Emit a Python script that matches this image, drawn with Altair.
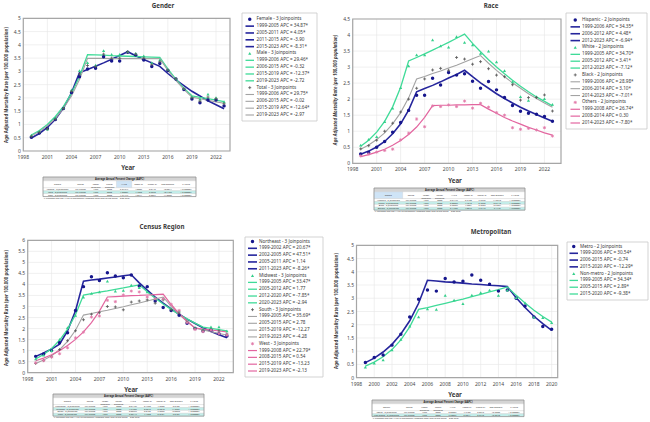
import altair as alt
import pandas as pd

FONT = "Noto Sans"
TXT = "#3a3a3a"

YEARS = list(range(1999, 2024))
METRO_YEARS = list(range(1999, 2021))

# ---------------- Gender ----------------
female_obs = [0.52, 0.68, 0.85, 1.19, 1.60, 2.20, 2.80, 3.09, 3.12, 3.55, 3.39, 3.39, 3.72, 3.62, 3.43, 3.18, 3.30, 3.03, 2.71, 2.32, 1.96, 1.82, 1.92, 1.92, 1.70]
female_fit = [0.49, 0.66, 0.89, 1.20, 1.62, 2.19, 2.95, 3.07, 3.19, 3.32, 3.46, 3.60, 3.74, 3.59, 3.45, 3.32, 3.19, 2.92, 2.68, 2.46, 2.25, 2.07, 1.89, 1.74, 1.59]
male_obs = [0.60, 0.75, 0.82, 1.25, 1.63, 2.30, 3.03, 3.33, 3.24, 3.78, 3.64, 3.64, 3.74, 3.68, 3.58, 3.33, 3.43, 3.08, 2.74, 2.36, 2.05, 1.96, 2.14, 2.01, 1.86]
male_fit = [0.60, 0.77, 1.00, 1.30, 1.68, 2.17, 2.81, 3.63, 3.62, 3.61, 3.59, 3.58, 3.57, 3.56, 3.55, 3.54, 3.53, 3.09, 2.71, 2.37, 2.08, 2.02, 1.97, 1.92, 1.86]
total_obs = [0.55, 0.70, 0.83, 1.20, 1.60, 2.25, 2.90, 3.22, 3.18, 3.65, 3.50, 3.50, 3.73, 3.65, 3.50, 3.25, 3.36, 3.05, 2.72, 2.34, 2.00, 1.88, 2.03, 1.97, 1.78]
total_fit = [0.57, 0.73, 0.95, 1.23, 1.60, 2.07, 2.69, 3.49, 3.49, 3.49, 3.48, 3.48, 3.48, 3.48, 3.48, 3.48, 3.48, 3.04, 2.66, 2.32, 2.03, 1.97, 1.91, 1.85, 1.80]

# ---------------- Race ----------------
hisp_obs = [0.29, 0.34, 0.50, 0.68, 0.97, 1.27, 1.65, 2.12, 2.12, 2.65, 2.44, 2.83, 2.75, 2.79, 2.56, 2.34, 2.55, 2.29, 2.05, 1.80, 1.62, 1.56, 1.53, 1.46, 1.31]
hisp_fit = [0.28, 0.38, 0.51, 0.68, 0.92, 1.23, 1.66, 2.23, 2.33, 2.43, 2.54, 2.66, 2.77, 2.90, 2.70, 2.51, 2.34, 2.17, 2.02, 1.88, 1.75, 1.63, 1.52, 1.41, 1.31]
white_obs = [0.57, 0.75, 0.83, 1.30, 1.72, 2.36, 3.04, 3.38, 3.38, 3.85, 3.66, 3.62, 3.95, 3.77, 3.69, 3.43, 3.50, 3.16, 2.89, 2.54, 2.08, 1.96, 2.08, 2.02, 1.84]
white_fit = [0.53, 0.72, 0.97, 1.31, 1.76, 2.37, 3.19, 3.30, 3.41, 3.53, 3.65, 3.77, 3.90, 4.03, 3.74, 3.48, 3.23, 3.00, 2.79, 2.59, 2.40, 2.23, 2.07, 1.93, 1.79]
black_obs = [0.45, 0.55, 0.72, 1.00, 1.25, 1.60, 2.00, 2.34, 2.63, 2.91, 2.96, 2.90, 3.30, 3.25, 3.09, 3.17, 2.95, 2.75, 2.70, 2.45, 1.97, 2.05, 2.05, 2.13, 1.63]
black_fit = [0.44, 0.57, 0.74, 0.95, 1.23, 1.58, 2.04, 2.63, 2.71, 2.80, 2.88, 2.97, 3.06, 3.16, 3.26, 3.36, 3.12, 2.90, 2.70, 2.51, 2.34, 2.17, 2.02, 1.88, 1.75]
oth_obs = [0.23, 0.29, 0.35, 0.40, 0.44, 0.73, 0.94, 1.38, 1.14, 1.79, 1.77, 1.82, 1.77, 1.94, 1.72, 1.87, 1.75, 1.58, 1.50, 1.11, 1.06, 1.09, 1.04, 1.11, 0.85]
oth_fit = [0.21, 0.27, 0.35, 0.44, 0.56, 0.71, 0.90, 1.13, 1.43, 1.80, 1.81, 1.81, 1.82, 1.82, 1.83, 1.83, 1.69, 1.56, 1.43, 1.32, 1.22, 1.12, 1.04, 0.95, 0.88]

# ---------------- Census Region ----------------
ne_obs = [0.74, 0.85, 1.00, 1.36, 1.81, 2.82, 3.90, 4.35, 4.18, 4.53, 4.38, 4.30, 4.43, 3.93, 3.90, 3.25, 2.95, 2.82, 2.60, 2.24, 2.00, 1.89, 1.93, 1.77, 1.66]
ne_fit = [0.74, 0.89, 1.07, 1.29, 1.90, 2.81, 4.15, 4.20, 4.24, 4.29, 4.34, 4.39, 4.44, 4.07, 3.74, 3.43, 3.15, 2.89, 2.65, 2.43, 2.23, 2.04, 1.87, 1.72, 1.58]
mw_obs = [0.63, 0.80, 1.00, 1.51, 2.04, 2.60, 3.43, 3.60, 3.66, 4.15, 3.70, 3.73, 3.97, 3.85, 3.66, 3.37, 3.37, 2.90, 2.80, 2.31, 2.04, 1.96, 2.08, 2.08, 1.89]
mw_fit = [0.62, 0.83, 1.10, 1.47, 1.97, 2.63, 3.52, 3.58, 3.65, 3.71, 3.78, 3.84, 3.91, 3.98, 3.67, 3.38, 3.11, 2.87, 2.64, 2.44, 2.25, 2.07, 2.01, 1.95, 1.89]
so_obs = [0.42, 0.55, 0.72, 1.05, 1.45, 1.90, 2.40, 2.65, 2.72, 3.00, 2.98, 2.85, 3.20, 3.25, 3.30, 3.15, 3.30, 2.85, 2.70, 2.30, 2.00, 1.90, 1.95, 1.90, 1.75]
so_fit = [0.42, 0.57, 0.77, 1.04, 1.42, 1.92, 2.61, 2.68, 2.76, 2.83, 2.91, 2.99, 3.08, 3.16, 3.25, 3.34, 3.43, 3.01, 2.64, 2.32, 2.03, 1.94, 1.86, 1.78, 1.71]
we_obs = [0.45, 0.55, 0.71, 0.86, 1.13, 1.58, 1.84, 2.52, 2.57, 3.28, 3.22, 3.52, 3.70, 3.66, 3.43, 3.35, 3.35, 3.10, 2.82, 2.27, 1.96, 1.86, 1.93, 1.77, 1.70]
we_fit = [0.54, 0.66, 0.81, 1.00, 1.23, 1.51, 1.85, 2.27, 2.79, 3.43, 3.45, 3.47, 3.49, 3.50, 3.52, 3.54, 3.56, 3.09, 2.68, 2.33, 2.02, 1.98, 1.94, 1.89, 1.85]

# ---------------- Metropolitan ----------------
metro_obs = [0.57, 0.76, 0.86, 1.23, 1.64, 2.29, 2.96, 3.31, 3.27, 3.75, 3.61, 3.64, 3.88, 3.68, 3.53, 3.27, 3.31, 3.00, 2.71, 2.29, 1.93, 1.83]
metro_fit = [0.57, 0.74, 0.97, 1.26, 1.65, 2.15, 2.81, 3.68, 3.65, 3.62, 3.60, 3.57, 3.54, 3.52, 3.49, 3.47, 3.44, 3.02, 2.65, 2.32, 2.04, 1.79]
nonmetro_obs = [0.40, 0.55, 0.67, 1.05, 1.45, 1.95, 2.30, 2.60, 2.58, 3.11, 2.93, 2.80, 3.12, 3.21, 3.31, 3.11, 3.31, 3.02, 2.83, 2.29, 2.27, 2.08]
nonmetro_fit = [0.44, 0.59, 0.79, 1.06, 1.43, 1.92, 2.58, 2.65, 2.73, 2.81, 2.89, 2.97, 3.06, 3.15, 3.24, 3.33, 3.43, 3.11, 2.82, 2.55, 2.31, 2.10]

# ---------------- Legend texts ----------------
gender_legend = [
    ("Female - 3 Joinpoints", "navy", "head"),
    ("1999-2005 APC  =  34.87*", "navy", "seg"),
    ("2005-2011 APC  =  4.05*", "navy", "seg"),
    ("2011-2015 APC  =  -3.90", "navy", "seg"),
    ("2015-2023 APC  =  -8.31*", "navy", "seg"),
    ("Male - 3 Joinpoints", "green", "head"),
    ("1999-2006 APC  =  29.46*", "green", "seg"),
    ("2006-2015 APC  =  -0.32", "green", "seg"),
    ("2015-2019 APC  =  -12.37*", "green", "seg"),
    ("2019-2023 APC  =  -2.72", "green", "seg"),
    ("Total - 3 Joinpoints", "gray", "head"),
    ("1999-2006 APC  =  29.75*", "gray", "seg"),
    ("2006-2015 APC  =  -0.02", "gray", "seg"),
    ("2015-2019 APC  =  -12.64*", "gray", "seg"),
    ("2019-2023 APC  =  -2.97", "gray", "seg"),
]
race_legend = [
    ("Hispanic - 2 Joinpoints", "navy", "head"),
    ("1999-2006 APC  =  34.35*", "navy", "seg"),
    ("2006-2012 APC  =  4.48*", "navy", "seg"),
    ("2012-2023 APC  =  -6.94*", "navy", "seg"),
    ("White - 2 Joinpoints", "green", "head"),
    ("1999-2005 APC  =  34.70*", "green", "seg"),
    ("2005-2012 APC  =  3.41*", "green", "seg"),
    ("2012-2023 APC  =  -7.12*", "green", "seg"),
    ("Black - 2 Joinpoints", "gray", "head"),
    ("1999-2006 APC  =  28.98*", "gray", "seg"),
    ("2006-2014 APC  =  3.10*", "gray", "seg"),
    ("2014-2023 APC  =  -7.01*", "gray", "seg"),
    ("Others - 2 Joinpoints", "pink", "head"),
    ("1999-2008 APC  =  26.74*", "pink", "seg"),
    ("2008-2014 APC  =  0.30", "pink", "seg"),
    ("2014-2023 APC  =  -7.80*", "pink", "seg"),
]
census_legend = [
    ("Northeast - 3 Joinpoints", "navy", "head"),
    ("1999-2002 APC  =  20.67*", "navy", "seg"),
    ("2002-2005 APC  =  47.51*", "navy", "seg"),
    ("2005-2011 APC  =  1.14", "navy", "seg"),
    ("2011-2023 APC  =  -8.26*", "navy", "seg"),
    ("Midwest - 3 Joinpoints", "green", "head"),
    ("1999-2005 APC  =  33.47*", "green", "seg"),
    ("2005-2012 APC  =  1.77", "green", "seg"),
    ("2012-2020 APC  =  -7.85*", "green", "seg"),
    ("2020-2023 APC  =  -2.94", "green", "seg"),
    ("South - 3 Joinpoints", "gray", "head"),
    ("1999-2005 APC  =  35.69*", "gray", "seg"),
    ("2005-2015 APC  =  2.78", "gray", "seg"),
    ("2015-2019 APC  =  -12.27", "gray", "seg"),
    ("2019-2023 APC  =  -4.28", "gray", "seg"),
    ("West - 3 Joinpoints", "pink", "head"),
    ("1999-2008 APC  =  22.79*", "pink", "seg"),
    ("2008-2015 APC  =  0.54", "pink", "seg"),
    ("2015-2019 APC  =  -13.23", "pink", "seg"),
    ("2019-2023 APC  =  -2.13", "pink", "seg"),
]
metro_legend = [
    ("Metro - 2 Joinpoints", "navy", "head"),
    ("1999-2006 APC  =  30.54*", "navy", "seg"),
    ("2006-2015 APC  =  -0.74", "navy", "seg"),
    ("2015-2020 APC  =  -12.29*", "navy", "seg"),
    ("Non-metro - 2 Joinpoints", "green", "head"),
    ("1999-2005 APC  =  34.34*", "green", "seg"),
    ("2005-2015 APC  =  2.89*", "green", "seg"),
    ("2015-2020 APC  =  -9.38*", "green", "seg"),
]

# ---------------- AAPC tables ----------------
table_header = ["Cohort", "Range", "Lower\nEndpoint", "Upper\nEndpoint", "AAPC", "Lower CI", "Upper CI", "Test Statistic", "P-Value"]
gender_table = [
    ["Female - 3 Joinpoints", "Full Range", "1999", "2023", "5.0191*", "4.0337", "6.0145", "10.2811", "< 0.000001"],
    ["Male - 3 Joinpoints", "Full Range", "1999", "2023", "4.8336*", "4.1052", "5.5672", "13.4409", "< 0.000001"],
    ["Total - 3 Joinpoints", "Full Range", "1999", "2023", "4.9144*", "4.2241", "5.6094", "14.3206", "< 0.000001"],
]
race_table = [
    ["Hispanic - 2 Joinpoints", "Full Range", "1999", "2023", "6.6417*", "5.7133", "7.5776", "14.5210", "< 0.000001"],
    ["White - 2 Joinpoints", "Full Range", "1999", "2023", "5.2026*", "4.4510", "5.9596", "13.9112", "< 0.000001"],
    ["Black - 2 Joinpoints", "Full Range", "1999", "2023", "5.9226*", "4.9801", "6.8729", "12.7254", "< 0.000001"],
    ["Others - 2 Joinpoints", "Full Range", "1999", "2023", "6.1498*", "4.8016", "7.5149", "9.1440", "< 0.000001"],
]
census_table = [
    ["Northeast - 3 Joinpoints", "Full Range", "1999", "2023", "3.2118*", "2.1750", "4.2588", "6.2102", "< 0.000001"],
    ["Midwest - 3 Joinpoints", "Full Range", "1999", "2023", "4.7498*", "3.9215", "5.5843", "11.5501", "< 0.000001"],
    ["South - 3 Joinpoints", "Full Range", "1999", "2023", "6.0297*", "5.0125", "7.0556", "12.0376", "< 0.000001"],
    ["West - 3 Joinpoints", "Full Range", "1999", "2023", "5.2611*", "4.1903", "6.3421", "9.8187", "< 0.000001"],
]
metro_table = [
    ["Metro - 2 Joinpoints", "Full Range", "1999", "2020", "5.6022*", "4.7105", "6.5016", "12.6032", "< 0.000001"],
    ["Non-metro - 2 Joinpoints", "Full Range", "1999", "2020", "7.7309*", "6.5011", "8.9742", "12.8540", "< 0.000001"],
]
table_cuts = [0, 0.19, 0.30, 0.39, 0.48, 0.58, 0.67, 0.76, 0.87, 1.0]
footnote = "* Indicates that the AAPC is significantly different from zero at the alpha = 0.05 level."
Y_TITLE = "Age Adjusted Mortality Rate (per 100,000 population)"

STYLE = {
    "navy": dict(line="#25259c", pt="#16168c", lw=1.6, marker="circle"),
    "green": dict(line="#3fdb98", pt="#35cf8b", lw=1.3, marker="triangle"),
    "gray": dict(line="#a3a3a3", pt="#555555", lw=1.1, marker="plus"),
    "pink": dict(line="#e3659f", pt="#e27aaa", lw=1.2, marker="star"),
}
PLUS = "M-1,0L1,0M0,-1L0,1"
STAR = "M-1,0L1,0M0,-1L0,1M-0.72,-0.72L0.72,0.72M-0.72,0.72L0.72,-0.72"


def marker_props(key):
    st = STYLE[key]
    m = st["marker"]
    if m == "circle":
        return dict(shape="circle", filled=True, size=12, color=st["pt"], opacity=1)
    if m == "triangle":
        return dict(shape="triangle-up", filled=True, size=10, color=st["pt"], opacity=1)
    if m == "plus":
        return dict(shape=PLUS, filled=False, size=9, color=st["pt"], strokeWidth=0.8, opacity=1)
    return dict(shape=STAR, filled=False, size=10, color=st["pt"], strokeWidth=0.8, opacity=1)


def sc(domain, rng):
    return alt.Scale(domain=domain, range=rng, nice=False, zero=False)


layers = []


def text_value(label, x, y, size, bold=True, angle=0, italic=False, color=TXT):
    props = dict(font=FONT, fontSize=size, fontWeight="bold" if bold else "normal",
                 color=color, align="center", baseline="middle")
    if angle:
        props["angle"] = angle
    if italic:
        props["fontStyle"] = "italic"
    layers.append(alt.Chart(pd.DataFrame({"lab": [label]})).mark_text(**props).encode(
        x=alt.value(x), y=alt.value(y), text="lab:N"))


def draw_panel(p):
    xs = sc(p["xdom"], p["xrng"])
    ys = sc(p["ydom"], p["yrng"])

    def X(f):
        return alt.X(f, scale=xs, axis=None)

    def Y(f):
        return alt.Y(f, scale=ys, axis=None)

    vg = pd.DataFrame({"t": p["xticks"], "a": p["ydom"][0], "b": p["ydom"][1]})
    layers.append(alt.Chart(vg).mark_rule(color="#e6e6e6", strokeWidth=0.6).encode(
        x=X("t:Q"), y=Y("a:Q"), y2="b:Q"))
    hg = pd.DataFrame({"t": p["yticks"], "a": p["xdom"][0], "b": p["xdom"][1]})
    layers.append(alt.Chart(hg).mark_rule(color="#e6e6e6", strokeWidth=0.6).encode(
        y=Y("t:Q"), x=X("a:Q"), x2="b:Q"))

    xl = pd.DataFrame({"t": p["xticks"], "lab": [str(t) for t in p["xticks"]], "y0": p["ydom"][0]})
    layers.append(alt.Chart(xl).mark_text(font=FONT, fontSize=5, color="#4a4a4a", baseline="middle", dy=6).encode(
        x=X("t:Q"), y=Y("y0:Q"), text="lab:N"))
    yl = pd.DataFrame({"t": p["yticks"], "lab": [f"{v:g}" for v in p["yticks"]], "x0": p["xdom"][0]})
    layers.append(alt.Chart(yl).mark_text(font=FONT, fontSize=5, color="#4a4a4a", baseline="middle", align="right", dx=-2.5).encode(
        x=X("x0:Q"), y=Y("t:Q"), text="lab:N"))

    for key, obs, fit in p["series"]:
        df = pd.DataFrame({"year": p["years"], "fit": fit})
        st = STYLE[key]
        layers.append(alt.Chart(df).mark_line(color=st["line"], strokeWidth=st["lw"]).encode(
            x=X("year:Q"), y=Y("fit:Q")))
    for key, obs, fit in p["series"]:
        df = pd.DataFrame({"year": p["years"], "obs": obs})
        layers.append(alt.Chart(df).mark_point(**marker_props(key)).encode(
            x=X("year:Q"), y=Y("obs:Q")))

    fr = pd.DataFrame({"x": [p["xdom"][0]], "x2": [p["xdom"][1]], "y": [p["ydom"][0]], "y2": [p["ydom"][1]]})
    layers.append(alt.Chart(fr).mark_rect(fillOpacity=0, stroke="#a6a6a6", strokeWidth=1.2).encode(
        x=X("x:Q"), x2="x2:Q", y=Y("y:Q"), y2="y2:Q"))

    tx, ty = p["title_xy"]
    text_value(p["title"], tx, ty, 6.2)
    yx, yy = p["year_xy"]
    text_value("Year", yx, yy, 6.2)
    ax, ay = p["ytitle_xy"]
    text_value(Y_TITLE, ax, ay, 4.4, angle=270, italic=p["ytitle_italic"])

    draw_legend(p["legend"])
    draw_table(p["table"])


def draw_legend(L):
    x0, y0, x1, y1 = L["box"]
    layers.append(alt.Chart(pd.DataFrame({"a": [0]})).mark_rect(fill="white", stroke="#c8c8c8", strokeWidth=0.8).encode(
        x=alt.value(x0), x2=alt.value(x1), y=alt.value(y0), y2=alt.value(y1)))
    entries = L["entries"]
    n = len(entries)
    ls = sc([0, n - 1], [L["first"], L["last"]])
    df = pd.DataFrame({
        "row": list(range(n)),
        "lab": [e[0] for e in entries],
        "kind": [e[2] for e in entries],
        "col": [STYLE[e[1]]["line"] for e in entries],
        "sw": [STYLE[e[1]]["lw"] for e in entries],
    })
    lx0, lx1 = L["lx"]
    segs = df[df["kind"] == "seg"]
    layers.append(alt.Chart(segs).mark_rule().encode(
        x=alt.value(lx0), x2=alt.value(lx1), y=alt.Y("row:Q", scale=ls, axis=None),
        color=alt.Color("col:N", scale=None), size=alt.Size("sw:Q", scale=None)))
    layers.append(alt.Chart(df).mark_text(font=FONT, fontSize=4.6, color=TXT, align="left", baseline="middle").encode(
        x=alt.value(L["tx"]), y=alt.Y("row:Q", scale=ls, axis=None), text="lab:N"))
    for i, e in enumerate(entries):
        if e[2] == "head":
            layers.append(alt.Chart(pd.DataFrame({"row": [i]})).mark_point(**marker_props(e[1])).encode(
                x=alt.value((lx0 + lx1) / 2), y=alt.Y("row:Q", scale=ls, axis=None)))


def draw_table(T):
    x0, y0, x1, y1 = T["box"]
    rows = T["rows"]
    nr = len(rows)
    hb = 3.7
    total = hb + nr + 1.0
    xs = sc([0, 1], [x0, x1])
    ys = sc([0, total], [y0, y1])

    cells = [(0, 1, 0, 1.3, "#d4d4d4"), (0, 1, 1.3, hb, "#ffffff")]
    if T["hcol"] is not None:
        c = T["hcol"]
        cells.append((table_cuts[c], table_cuts[c + 1], 1.3, hb, "#cfe4f6"))
    for i in range(nr):
        cells.append((0, 1, hb + i, hb + i + 1, "#c3eeea" if i in T["hl"] else "#ffffff"))
    cdf = pd.DataFrame(cells, columns=["u0", "u1", "v0", "v1", "fill"])
    layers.append(alt.Chart(cdf).mark_rect(stroke="#c4c4c4", strokeWidth=0.3).encode(
        x=alt.X("u0:Q", scale=xs, axis=None), x2="u1:Q",
        y=alt.Y("v0:Q", scale=ys, axis=None), y2="v1:Q",
        color=alt.Color("fill:N", scale=None)))
    bdf = pd.DataFrame({"u0": [0], "u1": [1], "v0": [0], "v1": [hb + nr]})
    layers.append(alt.Chart(bdf).mark_rect(fillOpacity=0, stroke="#8e8e8e", strokeWidth=0.7).encode(
        x=alt.X("u0:Q", scale=xs, axis=None), x2="u1:Q",
        y=alt.Y("v0:Q", scale=ys, axis=None), y2="v1:Q"))

    tdf = pd.DataFrame({"u": [0.5], "v": [0.65], "lab": ["Average Annual Percent Change (AAPC)"]})
    layers.append(alt.Chart(tdf).mark_text(font=FONT, fontSize=2.5, fontWeight="bold", color="#222", baseline="middle").encode(
        x=alt.X("u:Q", scale=xs, axis=None), y=alt.Y("v:Q", scale=ys, axis=None), text="lab:N"))

    centers = [(table_cuts[i] + table_cuts[i + 1]) / 2 for i in range(len(table_cuts) - 1)]
    hdf = pd.DataFrame({"u": centers, "v": [2.5] * len(centers), "lab": table_header})
    layers.append(alt.Chart(hdf).mark_text(font=FONT, fontSize=2.2, color="#333", baseline="middle", lineBreak="\n", lineHeight=2.4).encode(
        x=alt.X("u:Q", scale=xs, axis=None), y=alt.Y("v:Q", scale=ys, axis=None), text="lab:N"))

    recs = []
    for i, r in enumerate(rows):
        for j, val in enumerate(r):
            recs.append((centers[j], hb + i + 0.5, val))
    rdf = pd.DataFrame(recs, columns=["u", "v", "lab"])
    layers.append(alt.Chart(rdf).mark_text(font=FONT, fontSize=2.2, color="#333", baseline="middle").encode(
        x=alt.X("u:Q", scale=xs, axis=None), y=alt.Y("v:Q", scale=ys, axis=None), text="lab:N"))

    fdf = pd.DataFrame({"u": [0.005], "v": [hb + nr + 0.5], "lab": [footnote]})
    layers.append(alt.Chart(fdf).mark_text(font=FONT, fontSize=2.2, color="#333", baseline="middle", align="left").encode(
        x=alt.X("u:Q", scale=xs, axis=None), y=alt.Y("v:Q", scale=ys, axis=None), text="lab:N"))


X_TICKS3 = list(range(1998, 2023, 3))
PANELS = [
    dict(title="Gender", title_xy=(163, 5.5), year_xy=(128, 168), ytitle_xy=(7, 85), ytitle_italic=False,
         xdom=[1998, 2023.74], xrng=[23.3, 230], ydom=[0, 5], yrng=[151, 18.3],
         xticks=X_TICKS3, yticks=[i * 0.5 for i in range(11)], years=YEARS,
         series=[("navy", female_obs, female_fit), ("green", male_obs, male_fit), ("gray", total_obs, total_fit)],
         legend=dict(box=(242, 13, 317, 121), first=19.3, last=115, lx=(245.5, 254), tx=256.5, entries=gender_legend),
         table=dict(box=(43, 177, 196, 199.5), rows=gender_table, hl=[1], hcol=4)),
    dict(title="Race", title_xy=(491, 5.5), year_xy=(455, 181), ytitle_xy=(336, 90), ytitle_italic=True,
         xdom=[1998, 2024.07], xrng=[352.7, 561], ydom=[0, 4.5], yrng=[163.3, 19],
         xticks=X_TICKS3, yticks=[i * 0.5 for i in range(10)], years=YEARS,
         series=[("navy", hisp_obs, hisp_fit), ("green", white_obs, white_fit), ("gray", black_obs, black_fit), ("pink", oth_obs, oth_fit)],
         legend=dict(box=(566, 13, 647, 129), first=20, last=123, lx=(570.5, 580), tx=582, entries=race_legend),
         table=dict(box=(374, 188, 525, 213), rows=race_table, hl=[1, 3], hcol=0)),
    dict(title="Census Region", title_xy=(162, 227), year_xy=(131, 390), ytitle_xy=(7, 308), ytitle_italic=False,
         xdom=[1998, 2023.8], xrng=[27.7, 233.3], ydom=[0, 6], yrng=[372.7, 240.3],
         xticks=X_TICKS3, yticks=[i * 0.5 for i in range(13)], years=YEARS,
         series=[("navy", ne_obs, ne_fit), ("green", mw_obs, mw_fit), ("gray", so_obs, so_fit), ("pink", we_obs, we_fit)],
         legend=dict(box=(245, 237, 323, 377), first=241.5, last=371, lx=(248, 257), tx=259, entries=census_legend),
         table=dict(box=(53, 394, 204, 419), rows=census_table, hl=[1, 3], hcol=None)),
    dict(title="Metropolitan", title_xy=(491, 232), year_xy=(455, 395), ytitle_xy=(337, 311), ytitle_italic=False,
         xdom=[1998, 2020.68], xrng=[356.5, 557.7], ydom=[0, 5], yrng=[377.7, 245.3],
         xticks=list(range(1998, 2021, 2)), yticks=[i * 0.5 for i in range(11)], years=METRO_YEARS,
         series=[("navy", metro_obs, metro_fit), ("green", nonmetro_obs, nonmetro_fit)],
         legend=dict(box=(567, 242, 648, 300), first=246.5, last=294, lx=(569.5, 578), tx=580, entries=metro_legend),
         table=dict(box=(372, 400, 524, 419.5), rows=metro_table, hl=[1], hcol=None)),
]

for p in PANELS:
    draw_panel(p)

chart = alt.layer(*layers).resolve_scale(
    x="independent", y="independent", color="independent", size="independent"
).properties(
    width=650, height=422, padding=0, autosize=alt.AutoSizeParams(type="none")
).configure_view(stroke=None)

chart.save("out.html", embed_options={"renderer": "svg", "actions": False})
